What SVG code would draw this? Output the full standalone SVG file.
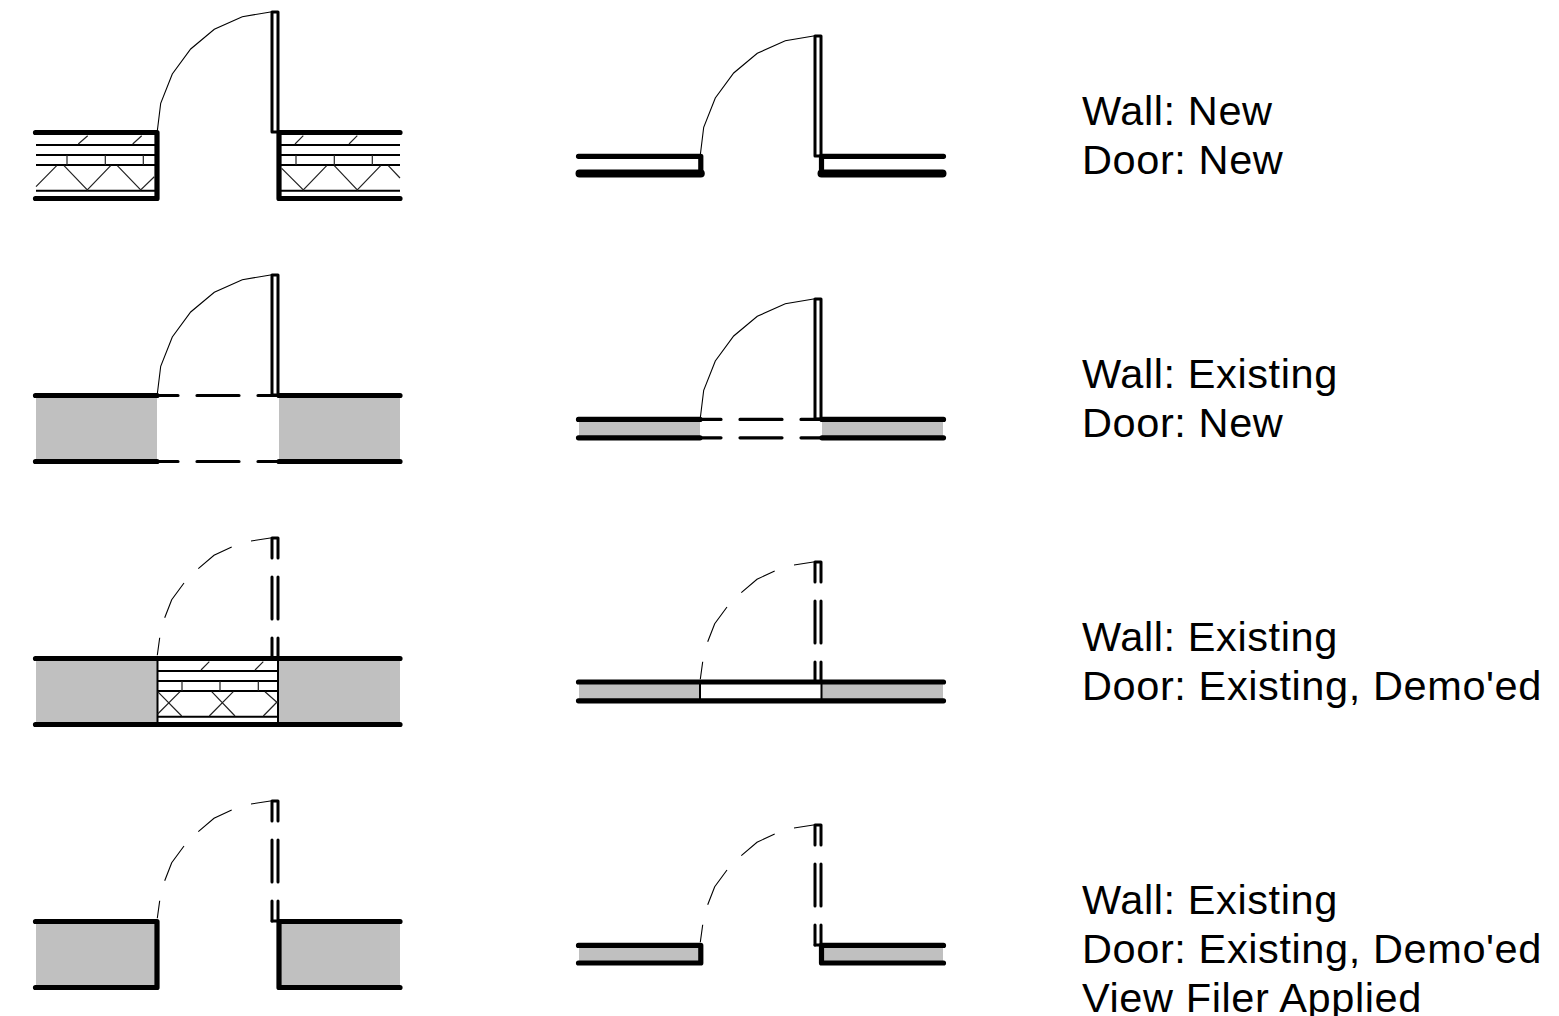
<svg xmlns="http://www.w3.org/2000/svg" width="1559" height="1016" viewBox="0 0 1559 1016">
<style>
.w{fill:none;stroke:#000;stroke-width:5.2;stroke-linecap:round;stroke-linejoin:round}
.b{fill:none;stroke:#000;stroke-width:8;stroke-linecap:round;stroke-linejoin:round}
.c{fill:none;stroke:#000;stroke-width:3.2;stroke-linecap:round;stroke-linejoin:round}
.d{fill:none;stroke:#000;stroke-width:3;stroke-linecap:round;stroke-linejoin:round}
.a{fill:none;stroke:#000;stroke-width:1.1}
.h{fill:none;stroke:#000;stroke-width:2}
.f{fill:none;stroke:#222;stroke-width:1.2}
.g{fill:#c0c0c0}
text{font-family:"Liberation Sans",Arial,sans-serif;font-size:41.5px;letter-spacing:.6px;fill:#000}
</style>
<defs>
<g id="arc"><path class="a" d="M157.3 131L160.7 103.3L172.3 74L190.7 49L214.3 29.3L242.3 16.7L272 11.7"/></g>
<g id="arcDash"><path class="a" d="M157.3 129.3L159.7 111.7M164.7 91.7L171.7 73.7L184 57M198.3 42.7L214 29.3L231.7 21M251 15L272 11.7"/></g>
<g id="door"><path class="d" d="M272 132V12H278V132Z"/></g>
<g id="doorDash"><path class="d" d="M272 32V12H278V32M272 51V93M278 51V93M272 112V132M278 112V132"/></g>
</defs>
<g id="connectors"/>
<g id="r1c1">
<path class="h" d="M36 145H156M36 155H156M36 165H156M36 190.7H156M281 145H400M281 155H400M281 165H400M281 190.7H400"/>
<path class="f" d="M78.3 144L87.7 135.7M132.7 144L141.7 135.7M67 155V165M105.3 155V165M143.3 155V165M36 186.7L56.7 165.7M64 165.7L87.3 190L110.7 165.7M117.3 165.7L140.7 190L154.3 176.7"/>
<path class="f" d="M295 144L303.3 135.7M349 144L357.3 135.7M296 155V165M334.3 155V165M372.3 155V165M281.7 168.3L303.3 190L326.7 165.7M334.3 165.7L357.3 190L380.7 165.7M388.3 165.7L400 178"/>
<path class="w" d="M35.5 132.5H157V198.5H35.5M400 132.5H279V198.5H400"/>
<use href="#arc"/><use href="#door"/>
</g>
<g id="r1c2">
<path class="w" d="M578.5 156.3H700.8V173.5M943.5 156.3H821.5V173.5"/>
<path class="b" d="M579.5 173.5H700.8M821.5 173.5H942.5"/>
<use href="#arc" x="543" y="24"/><use href="#door" x="543" y="24"/>
</g>
<g id="label1"><text x="1082" y="125">Wall: New</text><text x="1082" y="174">Door: New</text></g>
<g id="r2c1">
<rect class="g" x="36" y="396" width="121" height="65"/><rect class="g" x="279" y="396" width="121" height="65"/>
<path class="w" d="M35.5 395.5H157M35.5 461.5H157M279 395.5H400M279 461.5H400"/>
<path class="c" d="M157 395.5H178M197 395.5H239M258 395.5H279M157 461.5H178M197 461.5H239M258 461.5H279"/>
<use href="#arc" y="263"/><use href="#door" y="263"/>
</g>
<g id="r2c2">
<rect class="g" x="579" y="420" width="121" height="18"/><rect class="g" x="822" y="420" width="121" height="18"/>
<path class="w" d="M578.5 419.4H700M578.5 437.8H700M822 419.4H943.5M822 437.8H943.5"/>
<path class="c" d="M700 419.4H721M740 419.4H782M801 419.4H822M700 437.8H721M740 437.8H782M801 437.8H822"/>
<use href="#arc" x="543" y="287"/><use href="#door" x="543" y="287"/>
</g>
<g id="label2"><text x="1082" y="388">Wall: Existing</text><text x="1082" y="437">Door: New</text></g>
<g id="r3c1">
<rect class="g" x="36" y="659" width="121" height="65"/><rect class="g" x="279" y="659" width="121" height="65"/>
<path class="h" d="M157.5 671H278M157.5 681H278M157.5 691H278M157.5 716.7H278M157.5 659V724M278 659V724"/>
<path class="f" d="M201 670L209.3 661.7M255 670L263.3 661.7M182 681V691M220 681V691M258.3 681V691M157.7 691.7L181.7 716M157.7 714L180 691.7M211.7 691.7L235 716M209.3 716L233.3 691.7M265 691.7L278 703.3M263.3 716L278 701"/>
<path class="w" d="M35.5 658.5H400M35.5 724.5H400"/>
<use href="#arcDash" y="526"/><use href="#doorDash" y="526"/>
</g>
<g id="r3c2">
<rect class="g" x="579" y="683" width="121" height="18"/><rect class="g" x="822" y="683" width="121" height="18"/>
<path class="h" d="M700 682V701M821.5 682V701"/>
<path class="w" d="M578.5 682H943.5M578.5 700.8H943.5"/>
<use href="#arcDash" x="543" y="550"/><use href="#doorDash" x="543" y="550"/>
</g>
<g id="label3"><text x="1082" y="651">Wall: Existing</text><text x="1082" y="700">Door: Existing, Demo'ed</text></g>
<g id="r4c1">
<rect class="g" x="36" y="922" width="121" height="65"/><rect class="g" x="279" y="922" width="121" height="65"/>
<path class="w" d="M35.5 921.5H157V987.5H35.5M400 921.5H279V987.5H400"/>
<use href="#arcDash" y="789"/><use href="#doorDash" y="789"/>
<path class="d" d="M272 921H278"/>
</g>
<g id="r4c2">
<rect class="g" x="579" y="946" width="121" height="18"/><rect class="g" x="822" y="946" width="121" height="18"/>
<path class="w" d="M578.5 945.4H700.8V963H578.5M943.5 945.4H821.5V963H943.5"/>
<use href="#arcDash" x="543" y="813"/><use href="#doorDash" x="543" y="813"/>
<path class="d" d="M815 945H821"/>
</g>
<g id="label4"><text x="1082" y="914">Wall: Existing</text><text x="1082" y="963">Door: Existing, Demo'ed</text><text x="1082" y="1012">View Filer Applied</text></g>
</svg>
